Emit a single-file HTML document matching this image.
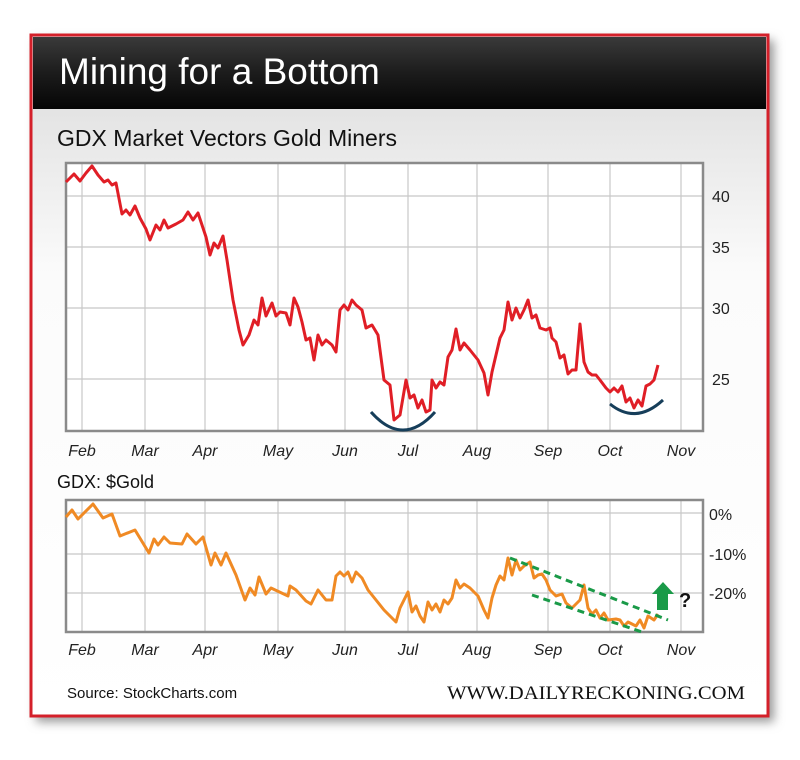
<!DOCTYPE html>
<html><head><meta charset="utf-8"><style>
body{margin:0;width:800px;height:755px;background:#fff;overflow:hidden;font-family:"Liberation Sans",sans-serif}
</style></head><body>
<svg width="800" height="755" xmlns="http://www.w3.org/2000/svg" font-family="Liberation Sans, sans-serif">
<defs>
<linearGradient id="hd" x1="0" y1="0" x2="0" y2="1"><stop offset="0" stop-color="#3a3a3a"/><stop offset="0.5" stop-color="#1c1c1c"/><stop offset="1" stop-color="#050505"/></linearGradient>
<linearGradient id="bg" x1="0" y1="0" x2="0" y2="1"><stop offset="0" stop-color="#d9d9d9"/><stop offset="0.35" stop-color="#fbfbfb"/><stop offset="1" stop-color="#ffffff"/></linearGradient>
<filter id="sh" x="-5%" y="-5%" width="110%" height="110%"><feGaussianBlur stdDeviation="5"/></filter>
</defs>
<rect x="36" y="40" width="738" height="682" fill="#999" filter="url(#sh)"/>
<rect x="31" y="35" width="737" height="681" fill="url(#bg)" stroke="#d4202a" stroke-width="3"/>
<rect x="33" y="37" width="733" height="72" fill="url(#hd)"/>
<text x="59" y="84" font-size="37" fill="#fff">Mining for a Bottom</text>
<text x="57" y="146" font-size="23" fill="#111">GDX Market Vectors Gold Miners</text>
<rect x="66" y="163" width="637" height="268" fill="#fff"/>
<g stroke="#c8c8c8" stroke-width="1.2">
<line x1="82" y1="163" x2="82" y2="431"/><line x1="145" y1="163" x2="145" y2="431"/><line x1="205" y1="163" x2="205" y2="431"/><line x1="278" y1="163" x2="278" y2="431"/><line x1="345" y1="163" x2="345" y2="431"/><line x1="408" y1="163" x2="408" y2="431"/><line x1="477" y1="163" x2="477" y2="431"/><line x1="548" y1="163" x2="548" y2="431"/><line x1="610" y1="163" x2="610" y2="431"/><line x1="681" y1="163" x2="681" y2="431"/>
<line x1="66" y1="196" x2="703" y2="196"/><line x1="66" y1="247" x2="703" y2="247"/><line x1="66" y1="308" x2="703" y2="308"/><line x1="66" y1="379" x2="703" y2="379"/>
</g>
<rect x="66" y="163" width="637" height="268" fill="none" stroke="#8a8a8a" stroke-width="2.5"/>
<polyline fill="none" stroke="#e01e26" stroke-width="3" stroke-linejoin="round" points="66,182 74,174 80,181 86,173 92,166 98,175 104,182 108,180 112,185 116,183 122,214 126,210 130,215 135,206 140,218 146,229 150,240 156,225 160,230 164,220 168,228 176,224 183,220 188,212 193,220 198,213 202,225 206,237 210,255 214,243 218,248 223,236 227,260 233,300 239,330 243,345 249,335 254,320 258,325 262,298 266,316 272,303 276,316 280,312 286,313 290,325 294,298 298,307 302,322 306,340 310,338 314,360 318,335 322,345 326,340 332,345 336,352 340,310 344,305 348,310 352,300 356,305 362,310 366,328 372,325 378,335 384,380 390,385 394,420 400,415 406,380 410,398 414,395 418,408 422,400 426,412 430,410 432,380 436,388 440,382 444,385 448,357 452,350 456,329 460,350 464,343 470,350 478,360 484,373 488,395 492,372 496,355 500,338 504,330 508,302 512,320 516,308 520,318 524,310 528,300 532,318 536,315 540,328 546,330 550,328 552,338 556,342 560,358 564,355 568,374 572,370 576,370 580,324 584,362 588,372 592,375 596,375 600,380 606,388 610,392 614,388 618,392 622,386 626,402 630,398 634,408 638,400 642,406 646,386 650,384 654,380 658,365"/>
<path d="M371,412 Q403,448 435,412" fill="none" stroke="#163e5a" stroke-width="3"/>
<path d="M610,404 Q636,425 663,400" fill="none" stroke="#163e5a" stroke-width="3"/>
<g font-size="16" fill="#222">
<text x="712" y="202">40</text><text x="712" y="253">35</text><text x="712" y="314">30</text><text x="712" y="385">25</text>
</g>
<g font-size="16" fill="#222" font-style="italic" text-anchor="middle">
<text x="82" y="456">Feb</text><text x="145" y="456">Mar</text><text x="205" y="456">Apr</text><text x="278" y="456">May</text><text x="345" y="456">Jun</text><text x="408" y="456">Jul</text><text x="477" y="456">Aug</text><text x="548" y="456">Sep</text><text x="610" y="456">Oct</text><text x="681" y="456">Nov</text>
</g>
<text x="57" y="488" font-size="18" fill="#111">GDX: $Gold</text>
<rect x="66" y="500" width="637" height="132" fill="#fff"/>
<g stroke="#c8c8c8" stroke-width="1.2">
<line x1="82" y1="500" x2="82" y2="632"/><line x1="145" y1="500" x2="145" y2="632"/><line x1="205" y1="500" x2="205" y2="632"/><line x1="278" y1="500" x2="278" y2="632"/><line x1="345" y1="500" x2="345" y2="632"/><line x1="408" y1="500" x2="408" y2="632"/><line x1="477" y1="500" x2="477" y2="632"/><line x1="548" y1="500" x2="548" y2="632"/><line x1="610" y1="500" x2="610" y2="632"/><line x1="681" y1="500" x2="681" y2="632"/>
<line x1="66" y1="513" x2="703" y2="513"/><line x1="66" y1="554" x2="703" y2="554"/><line x1="66" y1="593" x2="703" y2="593"/>
</g>
<rect x="66" y="500" width="637" height="132" fill="none" stroke="#8a8a8a" stroke-width="2.5"/>
<polyline fill="none" stroke="#f08a24" stroke-width="3" stroke-linejoin="round" points="66,517 72,510 78,519 93,504 103,518 112,514 120,536 135,530 149,553 154,539 158,545 164,537 170,543 182,544 187,534 196,544 203,537 211,565 215,553 221,565 226,553 236,575 245,600 250,588 255,595 259,577 266,594 271,588 288,596 290,586 296,590 306,601 311,604 318,590 326,600 332,600 336,576 340,572 344,576 348,572 352,582 356,572 362,578 368,590 376,600 384,610 390,616 396,622 400,608 404,600 408,592 412,612 416,606 420,616 424,622 428,602 432,610 436,604 440,612 444,600 448,604 452,598 456,580 460,588 464,584 470,588 478,596 484,610 488,618 492,598 496,585 500,576 504,580 508,558 512,575 516,560 520,570 524,566 530,562 534,578 538,575 542,574 546,580 550,590 556,596 562,594 566,603 572,608 576,604 580,600 584,585 588,608 592,614 596,610 600,618 604,613 608,620 616,619 620,620 624,626 628,622 632,624 636,626 640,620 644,628 648,616 654,620 658,614"/>
<g stroke="#1a9a48" stroke-width="3" stroke-dasharray="7,5" fill="none">
<line x1="510" y1="558" x2="668" y2="620"/><line x1="532" y1="595" x2="645" y2="633"/>
</g>
<polygon points="652,594 663,582 674,594 668,594 668,610 657,610 657,594" fill="#1a9a48"/>
<text x="679" y="607" font-size="20" font-weight="bold" fill="#111">?</text>
<g font-size="16" fill="#222">
<text x="709" y="520">0%</text><text x="709" y="560">-10%</text><text x="709" y="599">-20%</text>
</g>
<g font-size="16" fill="#222" font-style="italic" text-anchor="middle">
<text x="82" y="655">Feb</text><text x="145" y="655">Mar</text><text x="205" y="655">Apr</text><text x="278" y="655">May</text><text x="345" y="655">Jun</text><text x="408" y="655">Jul</text><text x="477" y="655">Aug</text><text x="548" y="655">Sep</text><text x="610" y="655">Oct</text><text x="681" y="655">Nov</text>
</g>
<text x="67" y="698" font-size="15" fill="#111">Source: StockCharts.com</text>
<text x="745" y="699" font-size="19" fill="#111" font-family="Liberation Serif, serif" text-anchor="end" textLength="298" lengthAdjust="spacingAndGlyphs">WWW.DAILYRECKONING.COM</text>
</svg>
</body></html>
